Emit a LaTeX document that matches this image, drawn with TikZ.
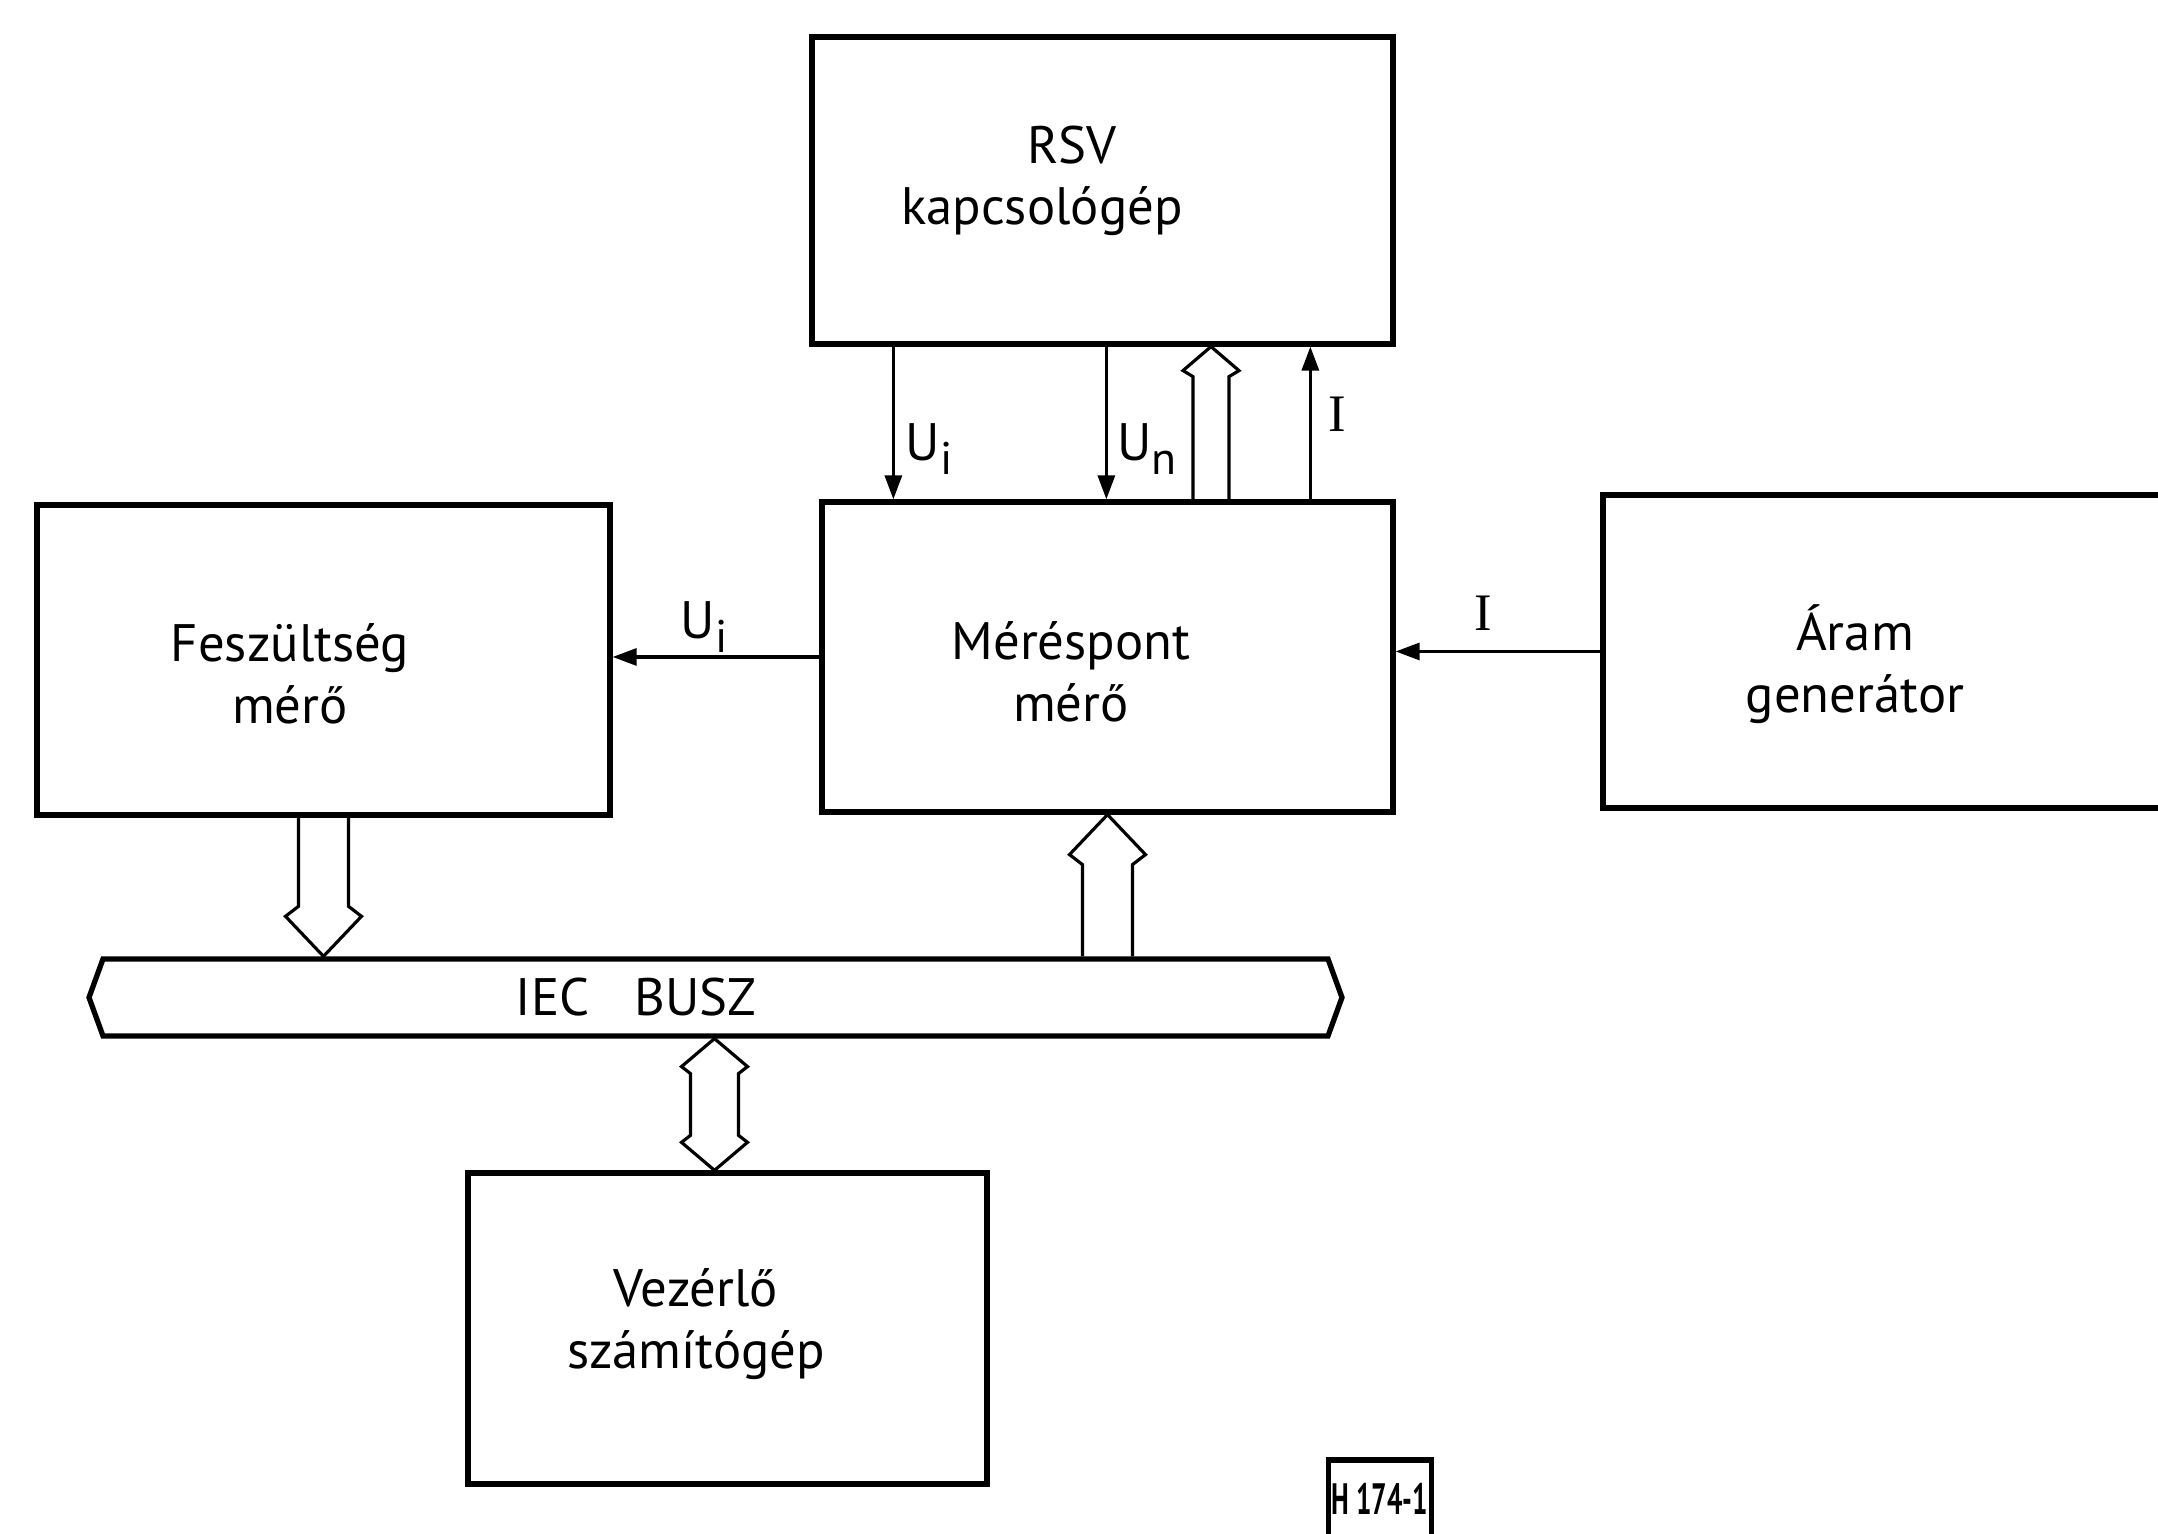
\documentclass[tikz,border=0pt]{standalone}
\usepackage{fontspec}
\setmainfont{PT Sans}
\newfontfamily\serifface{Liberation Serif}
\usetikzlibrary{calc, arrows.meta, shapes.symbols}

\newcommand\shaftHalf{0.25cm}
\newcommand\headHalf{0.38cm}
\newcommand\headLen{0.50cm}
\newcommand\lowsub[1]{\raisebox{-0.55ex}{\fontsize{13}{13}\selectfont #1}}

\tikzset{
  box/.style     ={draw, line width=1.5pt, inner sep=0pt},
  boxtxt/.style  ={align=center, inner sep=0pt,
                   font=\fontsize{15}{17.5}\selectfont},
  lbl/.style     ={inner sep=0pt, font=\fontsize{15}{15}\selectfont},
  sig/.style     ={line width=0.9pt, -{Triangle[length=2.4mm, width=1.7mm]}},
  hsize/.code args={#1/#2/#3}{\def\shaftHalf{#1}\def\headHalf{#2}\def\headLen{#3}},
  hollow/.style  ={line width=0.9pt, to path={
      let \p1=(\tikztostart), \p2=(\tikztotarget),
          \n1={(\y2>\y1) ? 1 : -1}
      in ({\x1-\shaftHalf},\y1) -- ({\x1-\shaftHalf},{\y2-(\n1)*\headLen})
         -- ({\x1-\headHalf},{\y2-0.8*(\n1)*\headLen}) -- (\x1,\y2)
         -- ({\x1+\headHalf},{\y2-0.8*(\n1)*\headLen})
         -- ({\x1+\shaftHalf},{\y2-(\n1)*\headLen}) -- ({\x1+\shaftHalf},\y1)}},
  hollowboth/.style={line width=0.9pt, to path={
      let \p1=(\tikztostart), \p2=(\tikztotarget),
          \n1={(\y2>\y1) ? 1 : -1}
      in (\x1,\y1) -- ({\x1+\headHalf},{\y1+0.8*(\n1)*\headLen})
         -- ({\x1+\shaftHalf},{\y1+(\n1)*\headLen})
         -- ({\x1+\shaftHalf},{\y2-(\n1)*\headLen})
         -- ({\x1+\headHalf},{\y2-0.8*(\n1)*\headLen}) -- (\x1,\y2)
         -- ({\x1-\headHalf},{\y2-0.8*(\n1)*\headLen})
         -- ({\x1-\shaftHalf},{\y2-(\n1)*\headLen})
         -- ({\x1-\shaftHalf},{\y1+(\n1)*\headLen})
         -- ({\x1-\headHalf},{\y1+0.8*(\n1)*\headLen}) -- cycle}},
  bus/.style     ={draw, line width=1.5pt, signal, signal to=east and west,
                   signal pointer angle=140, inner sep=0pt},
}

\begin{document}
\begin{tikzpicture}
\useasboundingbox (0,0) rectangle (21.58,15.34);

% blocks
\node[box, minimum width=5.81cm, minimum height=3.07cm] (rsv)   at (11.025, 13.435) {};
\node[box, minimum width=5.71cm, minimum height=3.10cm] (meres) at (11.075, 8.77) {};
\node[box, minimum width=5.73cm, minimum height=3.10cm] (fesz)  at (3.235, 8.74) {};
\node[box, minimum width=5.72cm, minimum height=3.13cm] (aram)  at (18.89, 8.825) {};
\node[box, minimum width=5.19cm, minimum height=3.11cm] (vez)   at (7.275, 2.055) {};
\node[bus, minimum width=12.53cm, minimum height=0.77cm] (bus) at (7.155, 5.365) {};

\node[boxtxt] (rsv-txt)   at (10.42, 13.53) {\hspace*{0.6cm}RSV\\kapcsológép};
\node[boxtxt] (meres-txt) at (10.71, 8.62)  {Méréspont\\mérő};
\node[boxtxt] (fesz-txt)  at (2.90, 8.60)   {Feszültség\\mérő};
\node[boxtxt] (aram-txt)  at (18.55, 8.70)  {Áram\\generátor};
\node[boxtxt] (vez-txt)   at (6.96, 2.10)   {Vezérlő\\számítógép};
\node[boxtxt] (bus-txt)   at (6.36, 5.365)  {IEC\hspace{0.45cm}BUSZ};

% signal lines
\coordinate (ui-top) at ($(rsv.south west)+(0.84,0)$);
\coordinate (un-top) at ($(rsv.south west)+(2.97,0)$);
\coordinate (i-top)  at ($(rsv.south west)+(5.01,0)$);
\draw[sig] (ui-top) -- (ui-top |- meres.north);
\draw[sig] (un-top) -- (un-top |- meres.north);
\draw[sig] (i-top |- meres.north) -- (i-top);
\draw[sig] (meres.west) -- (meres.west -| fesz.east);
\draw[sig] (aram.west) -- (aram.west -| meres.east);

\node[lbl] (ui-v) at (9.29, 10.85)  {U\lowsub{i}};
\node[lbl] (un-v) at (11.47, 10.85) {U\lowsub{n}};
\node[lbl] (i-v)  at (13.37, 11.20) {\serifface I};
\node[lbl] (ui-h) at (7.04, 9.07)   {U\lowsub{i}};
\node[lbl] (i-h)  at (14.83, 9.21)  {\serifface I};

% bus arrows
\coordinate (vez-arr) at ([xshift=-0.13cm]vez.north);
\coordinate (rsv-arr) at ([xshift=1.035cm]meres.north);
\draw[hollow] (fesz.south) to (fesz.south |- bus.north);
\draw[hollow] (meres.south |- bus.north) to (meres.south);
\draw[hollowboth, hsize=0.24cm/0.33cm/0.35cm] (vez-arr) to (vez-arr |- bus.south);
\draw[hollow, hsize=0.18cm/0.28cm/0.3cm] (rsv-arr) to (rsv-arr |- rsv.south);

\node[box, font=\bfseries\fontsize{12.5}{12.5}\selectfont, minimum width=1.03cm,
      minimum height=0.77cm] (hnum) at (13.80, 0.355) {\scalebox{0.62}[1]{H 174-1}};

\end{tikzpicture}
\end{document}
